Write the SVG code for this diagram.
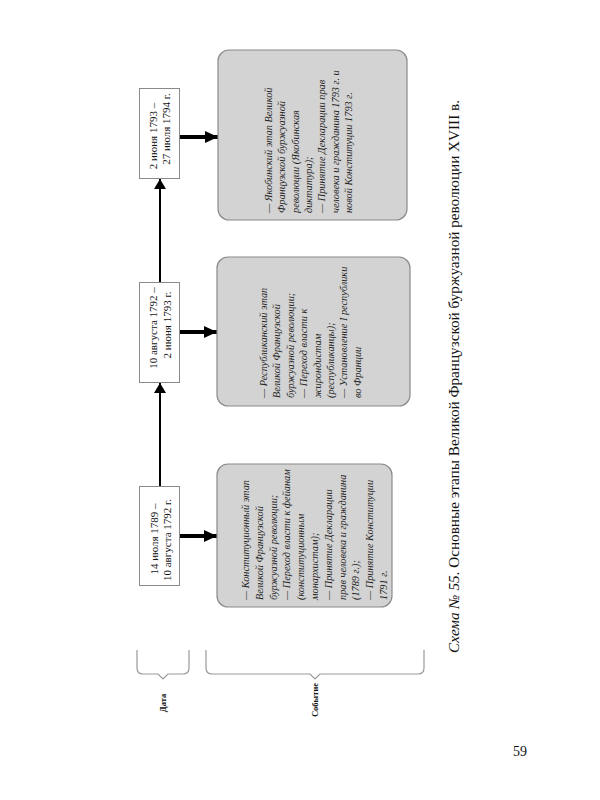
<svg xmlns="http://www.w3.org/2000/svg" width="600" height="800" viewBox="0 0 600 800">
<defs>
<marker id="ah" markerWidth="10" markerHeight="12" refX="10" refY="6" orient="auto" markerUnits="userSpaceOnUse">
<path d="M0,0 L10,6 L0,12 Z" fill="#000"/>
</marker>
<marker id="ahb" markerWidth="13" markerHeight="12" refX="13" refY="6" orient="auto" markerUnits="userSpaceOnUse">
<path d="M0,0 L13,6 L0,12 Z" fill="#000"/>
</marker>
<style>
.date{fill:#fff;stroke:#8a8a8a;stroke-width:1}
.ev{fill:#d3d3d3;stroke:#8a8a8a;stroke-width:1.2}
.dt{font-family:"Liberation Serif","DejaVu Serif",serif;font-size:11px;fill:#111;text-anchor:middle}
.et{font-family:"Liberation Serif","DejaVu Serif",serif;font-size:10.3px;font-style:italic;fill:#222}
.lab{font-family:"Liberation Serif","DejaVu Serif",serif;font-size:8.5px;font-weight:bold;fill:#111;text-anchor:middle}
.brace{fill:none;stroke:#999;stroke-width:1.2}
.vline{stroke:#000;stroke-width:2;fill:none}
.hline{stroke:#000;stroke-width:4;fill:none}
</style>
</defs>
<rect width="600" height="800" fill="#fff"/>

<g id="connectors">
<line class="vline" x1="160" y1="486" x2="160" y2="383" marker-end="url(#ah)"/>
<line class="vline" x1="160" y1="282" x2="160" y2="179" marker-end="url(#ah)"/>
<line class="hline" x1="180" y1="536" x2="217" y2="536" marker-end="url(#ahb)"/>
<line class="hline" x1="180" y1="332" x2="217" y2="332" marker-end="url(#ahb)"/>
<line class="hline" x1="180" y1="137" x2="218" y2="137" marker-end="url(#ahb)"/>
</g>

<g id="date1">
<rect class="date" x="139.5" y="486.5" width="40" height="99"/>
<text class="dt" transform="translate(158,539) rotate(-90)">14 июля 1789 –</text>
<text class="dt" transform="translate(171,540) rotate(-90)">10 августа 1792 г.</text>
</g>
<g id="date2">
<rect class="date" x="139.5" y="282.5" width="40" height="100"/>
<text class="dt" transform="translate(157,328) rotate(-90)">10 августа 1792 –</text>
<text class="dt" transform="translate(171,325) rotate(-90)">2 июня 1793 г.</text>
</g>
<g id="date3">
<rect class="date" x="139.5" y="88.5" width="40" height="90"/>
<text class="dt" transform="translate(157,136) rotate(-90)">2 июня 1793 –</text>
<text class="dt" transform="translate(170,129) rotate(-90)">27 июля 1794 г.</text>
</g>

<g id="event1">
<rect class="ev" x="217" y="464" width="175" height="143" rx="11"/>
<text class="et" transform="rotate(-90)">
<tspan x="-600" y="249">— Конституционный этап</tspan>
<tspan x="-600" y="262.8">Великой Французской</tspan>
<tspan x="-600" y="276.6">буржуазной революции;</tspan>
<tspan x="-600" y="290.4">— Переход власти к фейанам</tspan>
<tspan x="-600" y="304.2">(конституционным</tspan>
<tspan x="-600" y="318">монархистам);</tspan>
<tspan x="-600" y="331.8">— Принятие Декларации</tspan>
<tspan x="-600" y="345.6">прав человека и гражданина</tspan>
<tspan x="-600" y="359.4">(1789 г.);</tspan>
<tspan x="-600" y="373.2">— Принятие Конституции</tspan>
<tspan x="-600" y="387">1791 г.</tspan>
</text>
</g>

<g id="event2">
<rect class="ev" x="217" y="257" width="193" height="149" rx="11"/>
<text class="et" transform="rotate(-90)">
<tspan x="-398" y="267">— Республиканский этап</tspan>
<tspan x="-398" y="280.4">Великой Французской</tspan>
<tspan x="-398" y="293.8">буржуазной революции;</tspan>
<tspan x="-398" y="307.2">— Переход власти к</tspan>
<tspan x="-398" y="320.6">жирондистам</tspan>
<tspan x="-398" y="334">(республиканцы);</tspan>
<tspan x="-398" y="347.4">— Установление I республики</tspan>
<tspan x="-398" y="360.8">во Франции</tspan>
</text>
</g>

<g id="event3">
<rect class="ev" x="218" y="50" width="189" height="170" rx="11"/>
<text class="et" transform="rotate(-90)">
<tspan x="-213" y="272">— Якобинский этап Великой</tspan>
<tspan x="-213" y="285.3">Французской буржуазной</tspan>
<tspan x="-213" y="298.6">революции (Якобинская</tspan>
<tspan x="-213" y="311.9">диктатура);</tspan>
<tspan x="-213" y="325.2">— Принятие Декларации прав</tspan>
<tspan x="-213" y="338.5">человека и гражданина 1793 г. и</tspan>
<tspan x="-213" y="351.8">новой Конституции 1793 г.</tspan>
</text>
</g>

<g id="brace-date">
<path class="brace" d="M137,650 L137,668 Q137,674 143,674 L158,674 L163,679 L168,674 L183,674 Q189,674 189,668 L189,650"/>
<text class="lab" transform="translate(166,703) rotate(-90)">Дата</text>
</g>
<g id="brace-event">
<path class="brace" d="M206,650 L206,668 Q206,674 212,674 L310,674 L315,679 L320,674 L418,674 Q424,674 424,668 L424,650"/>
<text class="lab" transform="translate(318,700) rotate(-90)">Событие</text>
</g>

<g id="caption">
<text transform="translate(459,653) rotate(-90)" font-family="Liberation Serif, DejaVu Serif, serif" font-size="15" fill="#111" textLength="553" lengthAdjust="spacingAndGlyphs"><tspan font-style="italic">Схема № 55.</tspan> Основные этапы Великой Французской буржуазной революции XVIII в.</text>
</g>
<text x="520" y="756" font-family="Liberation Serif, DejaVu Serif, serif" font-size="14" fill="#111" text-anchor="middle">59</text>
</svg>
